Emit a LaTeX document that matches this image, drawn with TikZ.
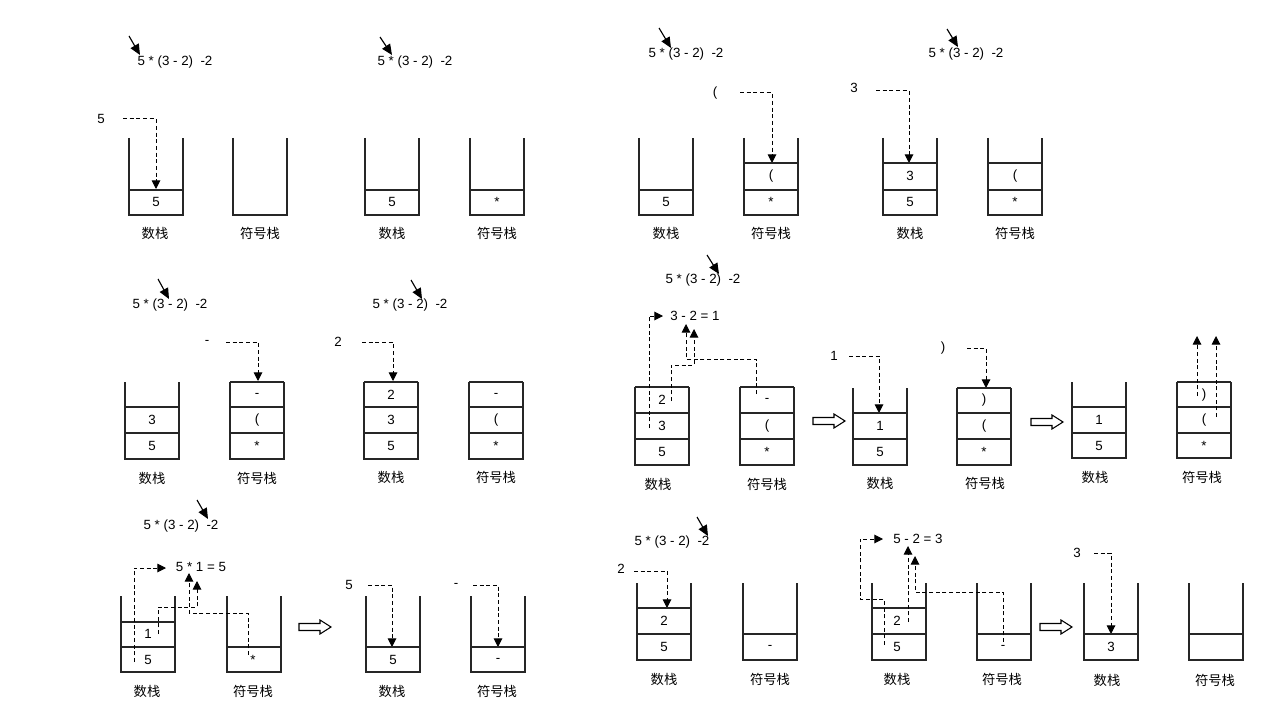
\documentclass[tikz,border=0pt]{standalone}
\usepackage{fontspec}
\setmainfont{Liberation Sans}
\newfontfamily\cjk{Noto Sans CJK SC}
\usetikzlibrary{arrows.meta}
\newcommand\stkopen[3]{\draw[stk] (#1,#2) -- (#1,#3) -- ({#1+54},#3) -- ({#1+54},#2);}
\newcommand\stkline[2]{\draw[stk] (#1,#2) -- ({#1+54},#2);}
\newcommand\stkcell[4]{\node (#1) at ({#2+27},#3) {#4};}
\newcommand\harrow[3]{\coordinate (#1) at (#2,#3);
  \draw[line width=0.8pt] (#1) ++(-16,-3.5) -- ++(21,0) -- ++(0,-3.5) -- ++(11,7) -- ++(-11,7) -- ++(0,-3.5) -- ++(-21,0) -- cycle;}
\begin{document}
\begin{tikzpicture}[x=0.75pt,y=-0.75pt,
  every node/.style={inner sep=0pt, font=\fontsize{10}{12}\selectfont},
  stk/.style={line width=0.95pt, black!85},
  dsh/.style={dash pattern=on 3pt off 2pt, line width=0.75pt, -{Triangle[length=6.5pt,width=6.5pt]}},
  ptr/.style={line width=0.85pt, -{Triangle[length=8pt,width=7pt]}},
  cn/.style={font=\cjk\fontsize{10}{12}\selectfont}]
\useasboundingbox (0,0) rectangle (1280,720);
\fill[white] (0,0) rectangle (1280,720);

% ---------- Panel 1
\node (e1) at (175,62) {5 * (3 - 2)~~-2};
\draw[ptr] (129,36) -- (140,55);
\node (n1) at (101,119) {5};
\draw[dsh] (123,119) -- (156,119) -- (156,189);
\stkopen{129}{138}{215} \stkline{129}{190} \stkcell{p1a}{129}{202}{5}
\stkopen{233}{138}{215}
\node[cn] (l1a) at (155,233) {数栈}; \node[cn] (l1b) at (260,233) {符号栈};

% ---------- Panel 2
\node (e2) at (415,62) {5 * (3 - 2)~~-2};
\draw[ptr] (380,37) -- (392,55);
\stkopen{365}{138}{215} \stkline{365}{190} \stkcell{p2a}{365}{202}{5}
\stkopen{470}{138}{215} \stkline{470}{190} \stkcell{p2b}{470}{202}{*}
\node[cn] (l2a) at (392,233) {数栈}; \node[cn] (l2b) at (497,233) {符号栈};

% ---------- Panel 3
\node (e3) at (686,54) {5 * (3 - 2)~~-2};
\draw[ptr] (659,28) -- (671,48);
\node (n3) at (715,93) {(};
\draw[dsh] (740,93) -- (772,93) -- (772,163);
\stkopen{639}{138}{215} \stkline{639}{190} \stkcell{p3a}{639}{202}{5}
\stkopen{744}{138}{215} \stkline{744}{163} \stkline{744}{190}
\stkcell{p3b}{744}{176}{(} \stkcell{p3c}{744}{202}{*}
\node[cn] (l3a) at (666,233) {数栈}; \node[cn] (l3b) at (771,233) {符号栈};

% ---------- Panel 4
\node (e4) at (966,54) {5 * (3 - 2)~~-2};
\draw[ptr] (947,29) -- (958,47);
\node (n4) at (854,88) {3};
\draw[dsh] (876,91) -- (909,91) -- (909,163);
\stkopen{883}{138}{215} \stkline{883}{163} \stkline{883}{190}
\stkcell{p4a}{883}{176}{3} \stkcell{p4b}{883}{202}{5}
\stkopen{988}{138}{215} \stkline{988}{163} \stkline{988}{190}
\stkcell{p4c}{988}{176}{(} \stkcell{p4d}{988}{202}{*}
\node[cn] (l4a) at (910,233) {数栈}; \node[cn] (l4b) at (1015,233) {符号栈};

% ---------- Panel 5
\node (e5) at (170,305) {5 * (3 - 2)~~-2};
\draw[ptr] (158,279) -- (169,299);
\node (n5) at (207,342) {-};
\draw[dsh] (226,342) -- (258,342) -- (258,381);
\stkopen{125}{382}{459} \stkline{125}{407} \stkline{125}{433}
\stkcell{p5a}{125}{420}{3} \stkcell{p5b}{125}{446}{5}
\stkopen{230}{382}{459} \stkline{230}{382} \stkline{230}{407} \stkline{230}{433}
\stkcell{p5c}{230}{395}{-} \stkcell{p5d}{230}{420}{(} \stkcell{p5e}{230}{446}{*}
\node[cn] (l5a) at (152,478) {数栈}; \node[cn] (l5b) at (257,478) {符号栈};

% ---------- Panel 6
\node (e6) at (410,305) {5 * (3 - 2)~~-2};
\draw[ptr] (411,280) -- (422,299);
\node (n6) at (338,342) {2};
\draw[dsh] (362,342) -- (393,342) -- (393,381);
\stkopen{364}{382}{459} \stkline{364}{382} \stkline{364}{407} \stkline{364}{433}
\stkcell{p6a}{364}{395}{2} \stkcell{p6b}{364}{420}{3} \stkcell{p6c}{364}{446}{5}
\stkopen{469}{382}{459} \stkline{469}{382} \stkline{469}{407} \stkline{469}{433}
\stkcell{p6d}{469}{395}{-} \stkcell{p6e}{469}{420}{(} \stkcell{p6f}{469}{446}{*}
\node[cn] (l6a) at (391,477) {数栈}; \node[cn] (l6b) at (496,477) {符号栈};

% ---------- Panel 7
\node (e7) at (703,280) {5 * (3 - 2)~~-2};
\draw[ptr] (707,255) -- (719,274);
\node (r7) at (695,316) {3 - 2 = 1};
\stkopen{635}{387}{465} \stkline{635}{387} \stkline{635}{413} \stkline{635}{439}
\stkcell{p7a}{635}{400}{2} \stkcell{p7b}{635}{426}{3} \stkcell{p7c}{635}{452}{5}
\stkopen{740}{387}{465} \stkline{740}{387} \stkline{740}{413} \stkline{740}{439}
\stkcell{p7d}{740}{400}{-} \stkcell{p7e}{740}{426}{(} \stkcell{p7f}{740}{452}{*}
\draw[dsh] (649,428) -- (649,316) -- (663,316);
\draw[dsh] (671,401) -- (671,365) -- (694,365) -- (694,329);
\draw[dsh] (756,394) -- (756,359) -- (686,359) -- (686,324);
\node[cn] (l7a) at (658,484) {数栈}; \node[cn] (l7b) at (767,484) {符号栈};

\harrow{h1}{829}{421}

% ---------- Panel 8
\node (n8a) at (834,356) {1};
\draw[dsh] (849,356) -- (879,356) -- (879,413);
\stkopen{853}{388}{465} \stkline{853}{413} \stkline{853}{439}
\stkcell{p8a}{853}{426}{1} \stkcell{p8b}{853}{452}{5}
\node (n8b) at (943,348) {)};
\draw[dsh] (967,348) -- (986,348) -- (986,388);
\stkopen{957}{388}{465} \stkline{957}{388} \stkline{957}{413} \stkline{957}{439}
\stkcell{p8c}{957}{400}{)} \stkcell{p8d}{957}{426}{(} \stkcell{p8e}{957}{452}{*}
\node[cn] (l8a) at (880,483) {数栈}; \node[cn] (l8b) at (985,483) {符号栈};

\harrow{h2}{1047}{422}

% ---------- Panel 9
\stkopen{1072}{382}{458} \stkline{1072}{407} \stkline{1072}{433}
\stkcell{p9a}{1072}{420}{1} \stkcell{p9b}{1072}{446}{5}
\stkopen{1177}{382}{458} \stkline{1177}{382} \stkline{1177}{407} \stkline{1177}{433}
\stkcell{p9c}{1177}{395}{)} \stkcell{p9d}{1177}{420}{(} \stkcell{p9e}{1177}{446}{*}
\draw[dsh] (1197,396) -- (1197,336);
\draw[dsh] (1216,417) -- (1216,336);
\node[cn] (l9a) at (1095,477) {数栈}; \node[cn] (l9b) at (1202,477) {符号栈};

% ---------- Panel 10
\node (e10) at (181,526) {5 * (3 - 2)~~-2};
\draw[ptr] (197,500) -- (208,519);
\node (r10) at (201,567) {5 * 1 = 5};
\stkopen{121}{596}{672} \stkline{121}{622} \stkline{121}{647}
\node (p10a) at (148,634) {1}; \node (p10b) at (148,660) {5};
\stkopen{227}{596}{672} \stkline{227}{647}
\node (p10c) at (253,660) {*};
\draw[dsh] (134,662) -- (134,568) -- (166,568);
\draw[dsh] (158,634) -- (158,607) -- (197,607) -- (197,581);
\draw[dsh] (248,655) -- (248,613) -- (189,613) -- (189,573);
\node[cn] (l10a) at (147,691) {数栈}; \node[cn] (l10b) at (253,691) {符号栈};

\harrow{h3}{315}{627}

\node (n10a) at (349,585) {5};
\draw[dsh] (368,585) -- (392,585) -- (392,647);
\stkopen{366}{596}{672} \stkline{366}{647} \stkcell{p10d}{366}{660}{5}
\node (n10b) at (456,585) {-};
\draw[dsh] (473,585) -- (498,585) -- (498,647);
\stkopen{471}{596}{672} \stkline{471}{647} \stkcell{p10e}{471}{660}{-}
\node[cn] (l10c) at (392,691) {数栈}; \node[cn] (l10d) at (497,691) {符号栈};

% ---------- Panel 11
\node (e11) at (672,542) {5 * (3 - 2)~~-2};
\draw[ptr] (697,517) -- (708,536);
\node (n11) at (621,569) {2};
\draw[dsh] (634,571) -- (667,571) -- (667,608);
\stkopen{637}{583}{660} \stkline{637}{608} \stkline{637}{634}
\stkcell{p11a}{637}{621}{2} \stkcell{p11b}{637}{647}{5}
\stkopen{743}{583}{660} \stkline{743}{634} \stkcell{p11c}{743}{647}{-}
\node[cn] (l11a) at (664,679) {数栈}; \node[cn] (l11b) at (770,679) {符号栈};

\node (r11) at (918,539) {5 - 2 = 3};
\stkopen{872}{583}{660} \stkline{872}{608} \stkline{872}{634}
\node (p11d) at (897,621) {2}; \node (p11e) at (897,647) {5};
\stkopen{977}{583}{660} \stkline{977}{634} \node (p11f) at (1003,647) {-};
\draw[dsh] (884,645) -- (884,599) -- (860,599) -- (860,539) -- (883,539);
\draw[dsh] (908,622) -- (908,546);
\draw[dsh] (1003,642) -- (1003,592) -- (915,592) -- (915,556);
\node[cn] (l11c) at (897,679) {数栈}; \node[cn] (l11d) at (1002,679) {符号栈};

\harrow{h4}{1056}{627}

% ---------- Panel 12
\node (n12) at (1077,553) {3};
\draw[dsh] (1094,553) -- (1111,553) -- (1111,634);
\stkopen{1084}{583}{660} \stkline{1084}{634} \stkcell{p12a}{1084}{647}{3}
\stkopen{1189}{583}{660} \stkline{1189}{634}
\node[cn] (l12a) at (1107,680) {数栈}; \node[cn] (l12b) at (1215,680) {符号栈};
\end{tikzpicture}
\end{document}
